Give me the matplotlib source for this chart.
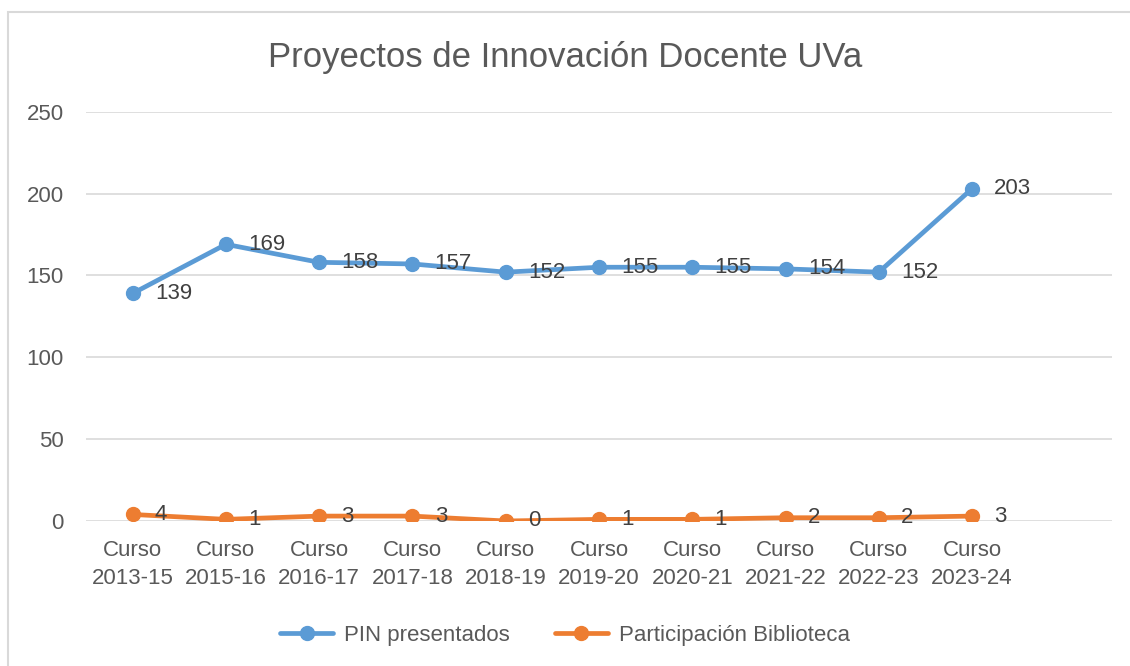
import matplotlib.pyplot as plt
from matplotlib.patches import Rectangle

plt.rcParams['font.family'] = ['Liberation Sans', 'DejaVu Sans']

cursos = ['Curso\n2013-15', 'Curso\n2015-16', 'Curso\n2016-17', 'Curso\n2017-18',
          'Curso\n2018-19', 'Curso\n2019-20', 'Curso\n2020-21', 'Curso\n2021-22',
          'Curso\n2022-23', 'Curso\n2023-24']
pin_presentados = [139, 169, 158, 157, 152, 155, 155, 154, 152, 203]
participacion_biblioteca = [4, 1, 3, 3, 0, 1, 1, 2, 2, 3]

azul = '#5B9BD5'
naranja = '#ED7D31'
gris = '#595959'

fig = plt.figure(figsize=(11.3, 6.66), dpi=100)
ax = fig.add_axes([86 / 1130, 145 / 666, (1112 - 86) / 1130, (521 - 111.7) / 666])

x = list(range(len(cursos)))
ax.plot(x, pin_presentados, color=azul, lw=3.4, marker='o', ms=10,
        label='PIN presentados', solid_capstyle='round', zorder=3)
ax.plot(x, participacion_biblioteca, color=naranja, lw=3.4, marker='o', ms=10,
        label='Participación Biblioteca', solid_capstyle='round', zorder=3)

for xi, v in zip(x, pin_presentados):
    ax.annotate(str(v), (xi, v), xytext=(16, 0), textcoords='offset points',
                va='center', ha='left', fontsize=16, color='#404040')
for xi, v in zip(x, participacion_biblioteca):
    ax.annotate(str(v), (xi, v), xytext=(16, 0), textcoords='offset points',
                va='center', ha='left', fontsize=16, color='#404040')

ax.set_xlim(-0.5, 10.5)
ax.set_ylim(0, 250)
ax.set_yticks([0, 50, 100, 150, 200, 250])
ax.set_xticks(x)
ax.set_xticklabels(cursos, linespacing=1.4)
ax.tick_params(axis='both', length=0, labelsize=16, labelcolor=gris)
ax.tick_params(axis='y', pad=16)
ax.tick_params(axis='x', pad=14)
ax.grid(axis='y', color='#D9D9D9', lw=1.2)
ax.set_axisbelow(True)
for s in ax.spines.values():
    s.set_visible(False)

fig.text(0.5, (666 - 57) / 666, 'Proyectos de Innovación Docente UVa',
         ha='center', va='center', fontsize=25, color=gris)

fig.legend(loc='center', bbox_to_anchor=(0.5, (666 - 635) / 666), ncol=2,
           frameon=False, fontsize=16, labelcolor=gris, handlelength=2.4,
           handletextpad=0.5, columnspacing=2.0)

fig.add_artist(Rectangle((8 / 1130, -0.05), 1.1, (666 - 12) / 666 + 0.05,
                         transform=fig.transFigure, fill=False,
                         edgecolor='#D9D9D9', lw=1.5))

fig.savefig('out.png', dpi=100)
